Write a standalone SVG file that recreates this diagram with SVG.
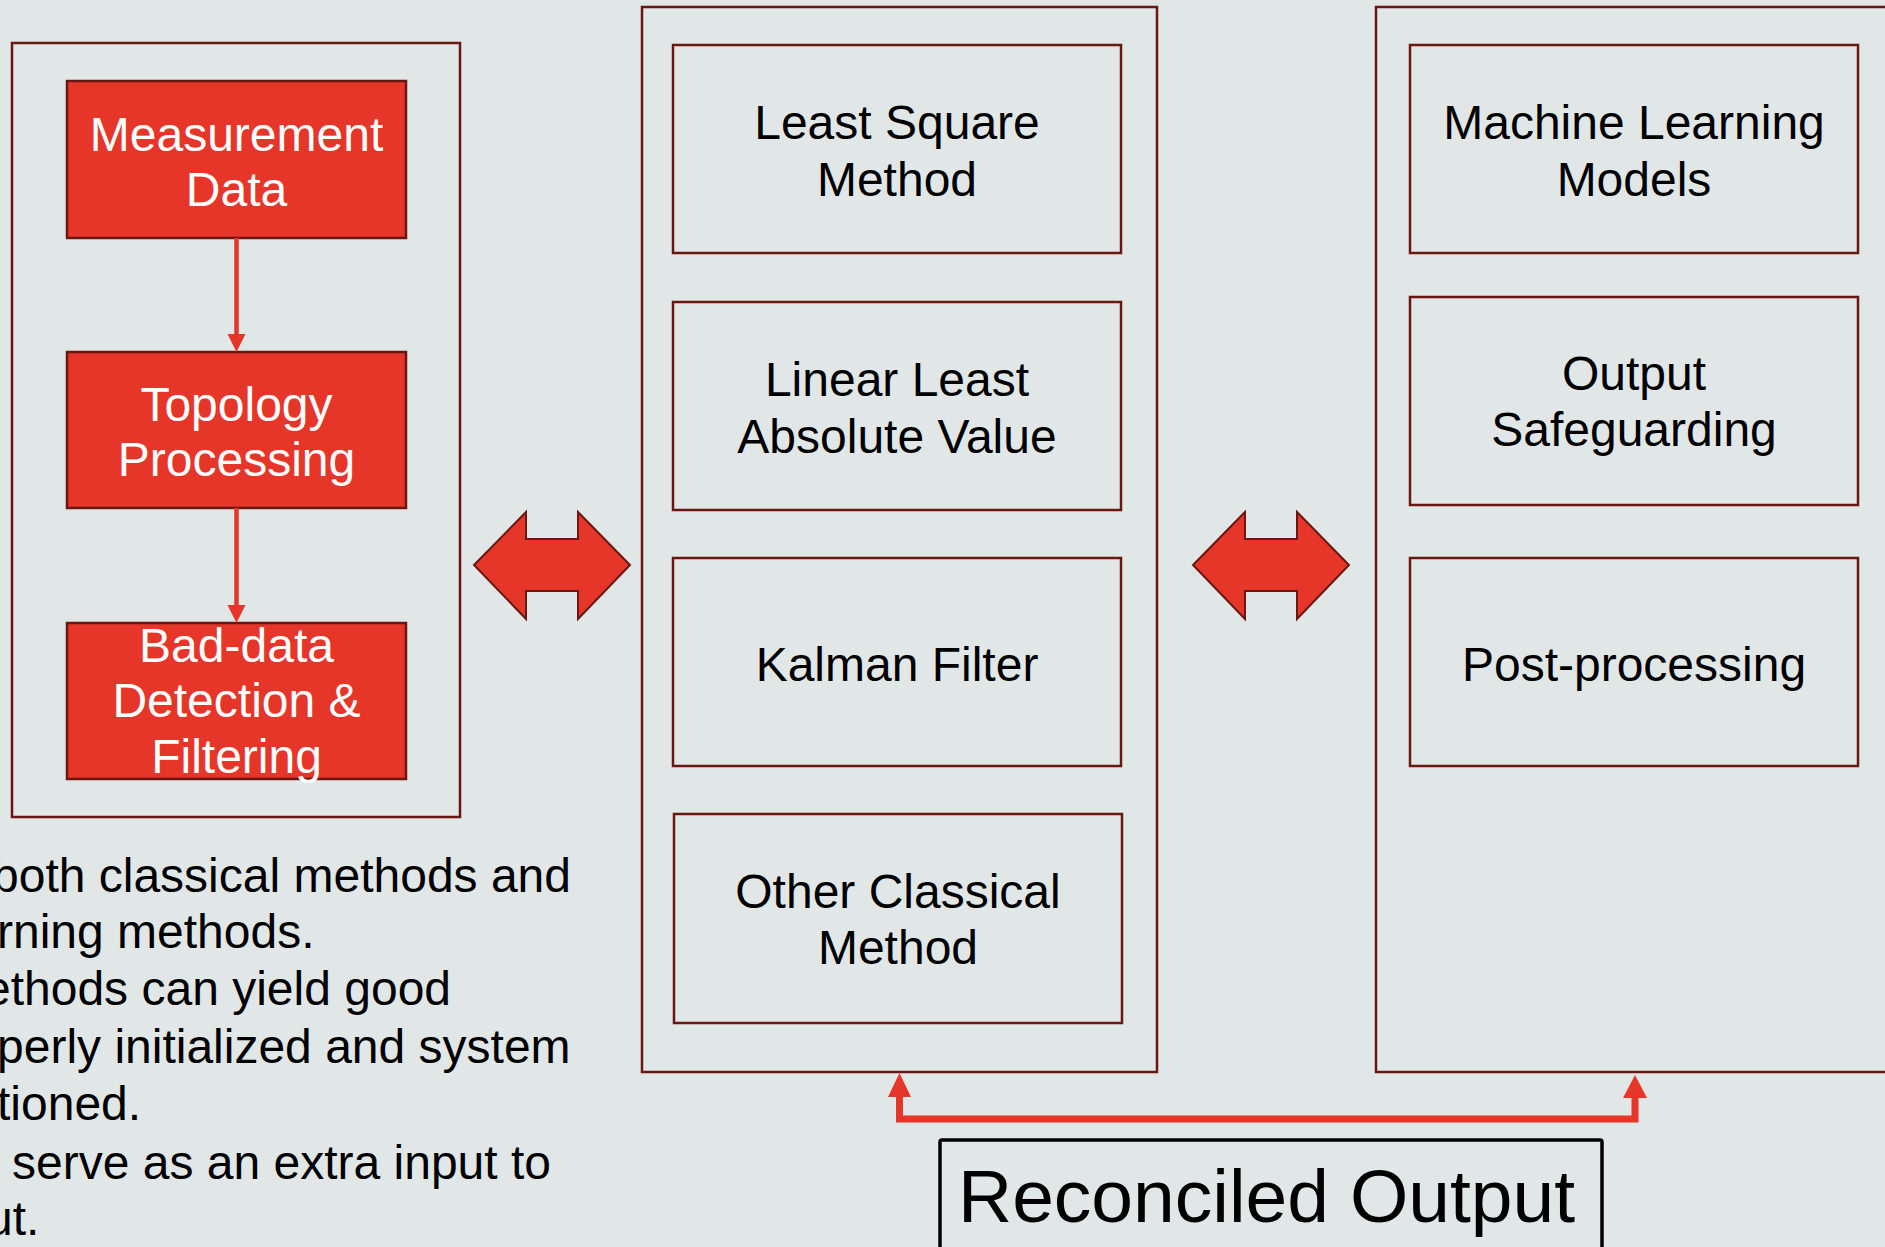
<svg xmlns="http://www.w3.org/2000/svg" width="1885" height="1247" viewBox="0 0 1885 1247">
  <style>
    .bg { fill: #e1e7e7; }
    .container { fill: none; stroke: #6a1712; stroke-width: 2.5; }
    .box { fill: #e1e7e7; stroke: #6a1712; stroke-width: 2.5; }
    .redbox { fill: #e63529; stroke: #6a1712; stroke-width: 2.5; }
    .t { font-family: "Liberation Sans", Arial, Helvetica, sans-serif; font-size: 48px; fill: #000000; text-anchor: middle; }
    .tw { font-family: "Liberation Sans", Arial, Helvetica, sans-serif; font-size: 48px; fill: #ffffff; text-anchor: middle; }
    .para { font-family: "Liberation Sans", Arial, Helvetica, sans-serif; font-size: 48px; fill: #000000; }
    .big { font-family: "Liberation Sans", Arial, Helvetica, sans-serif; font-size: 75px; fill: #000000; }
    .dbl { fill: #e63529; stroke: #6a1712; stroke-width: 2; stroke-linejoin: miter; }
    .conn { fill: none; stroke: #e63529; }
    .head { fill: #e63529; stroke: none; }
  </style>
  <rect class="bg" x="0" y="0" width="1885" height="1247"/>

  <!-- containers -->
  <g id="left-container">
    <rect class="container" x="12" y="43" width="448" height="774"/>
  </g>
  <g id="middle-container">
    <rect class="container" x="642" y="7" width="515" height="1065"/>
  </g>
  <g id="right-container">
    <rect class="container" x="1376" y="7" width="600" height="1065"/>
  </g>

  <!-- left column -->
  <g id="measurement-data">
    <rect class="redbox" x="67" y="81" width="339" height="157"/>
    <text class="tw" x="236.5" y="151">Measurement</text>
    <text class="tw" x="236.5" y="206">Data</text>
  </g>
  <g id="topology-processing">
    <rect class="redbox" x="67" y="352" width="339" height="156"/>
    <text class="tw" x="236.5" y="421">Topology</text>
    <text class="tw" x="236.5" y="476">Processing</text>
  </g>
  <g id="bad-data">
    <rect class="redbox" x="67" y="623" width="339" height="156"/>
    <text class="tw" x="236.5" y="662">Bad-data</text>
    <text class="tw" x="236.5" y="717">Detection &amp;</text>
    <text class="tw" x="236.5" y="773">Filtering</text>
  </g>

  <!-- middle column -->
  <g id="least-square">
    <rect class="box" x="673" y="45" width="448" height="208"/>
    <text class="t" x="897" y="139">Least Square</text>
    <text class="t" x="897" y="196">Method</text>
  </g>
  <g id="linear-least-absolute">
    <rect class="box" x="673" y="302" width="448" height="208"/>
    <text class="t" x="897" y="396">Linear Least</text>
    <text class="t" x="897" y="453">Absolute Value</text>
  </g>
  <g id="kalman-filter">
    <rect class="box" x="673" y="558" width="448" height="208"/>
    <text class="t" x="897" y="681">Kalman Filter</text>
  </g>
  <g id="other-classical">
    <rect class="box" x="674" y="814" width="448" height="209"/>
    <text class="t" x="898" y="908">Other Classical</text>
    <text class="t" x="898" y="964">Method</text>
  </g>

  <!-- right column -->
  <g id="machine-learning">
    <rect class="box" x="1410" y="45" width="448" height="208"/>
    <text class="t" x="1634" y="139">Machine Learning</text>
    <text class="t" x="1634" y="196">Models</text>
  </g>
  <g id="output-safeguarding">
    <rect class="box" x="1410" y="297" width="448" height="208"/>
    <text class="t" x="1634" y="390">Output</text>
    <text class="t" x="1634" y="446">Safeguarding</text>
  </g>
  <g id="post-processing">
    <rect class="box" x="1410" y="558" width="448" height="208"/>
    <text class="t" x="1634" y="681">Post-processing</text>
  </g>

  <!-- reconciled output -->
  <g id="reconciled-output">
    <rect x="940" y="1140" width="662" height="200" rx="2" fill="none" stroke="#000000" stroke-width="3.5"/>
    <text class="big" x="958" y="1222">Reconciled Output</text>
  </g>

  <!-- paragraph text (cut at left edge, as in the picture) -->
  <g id="notes">
    <text class="para" x="-8" y="892">both classical methods and</text>
    <text class="para" x="-3" y="948">rning methods.</text>
    <text class="para" x="-16" y="1005">ethods can yield good</text>
    <text class="para" x="-3" y="1063">perly initialized and system</text>
    <text class="para" x="-3" y="1120">tioned.</text>
    <text class="para" x="12" y="1179">serve as an extra input to</text>
    <text class="para" x="-14" y="1235">ut.</text>
  </g>

  <!-- connectors -->
  <g id="connectors">
    <line class="conn" x1="236.5" y1="238" x2="236.5" y2="336" stroke-width="4.5"/>
    <polygon class="head" points="227.5,334 245.5,334 236.5,352"/>
    <line class="conn" x1="236.5" y1="508" x2="236.5" y2="607" stroke-width="4.5"/>
    <polygon class="head" points="227.5,605 245.5,605 236.5,623"/>

    <polygon class="dbl" points="474,565 526,512 526,539 578,539 578,512 630,565 578,619 578,591 526,591 526,619"/>
    <polygon class="dbl" points="1193,565 1245,512 1245,539 1297,539 1297,512 1349,565 1297,619 1297,591 1245,591 1245,619"/>

    <path class="conn" d="M899.5,1095 V1119 H1635 V1096" stroke-width="7" stroke-linejoin="miter"/>
    <polygon class="head" points="899.5,1073 888,1097 911,1097"/>
    <polygon class="head" points="1635,1075 1623,1098 1647,1098"/>
  </g>
</svg>
